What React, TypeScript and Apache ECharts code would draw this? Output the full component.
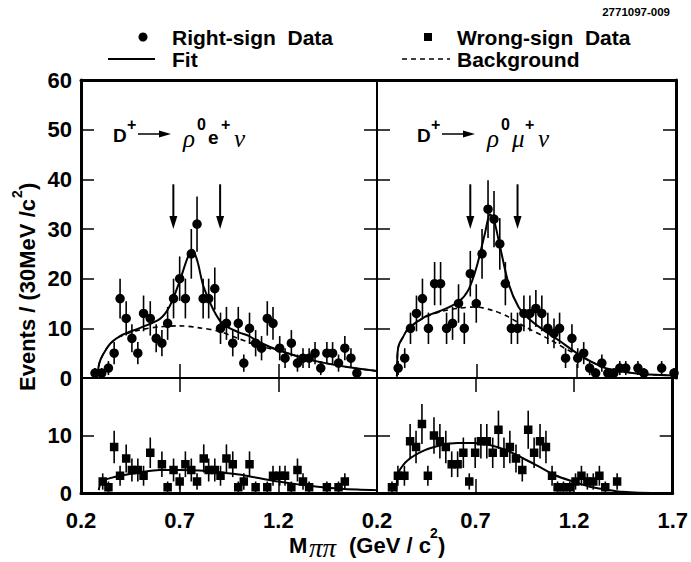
import React, { useEffect, useRef } from 'react';
import * as echarts from 'echarts';

// ---------- data ----------
// Top-left: D+ -> rho0 e+ nu, right-sign data
const tlX = [0.271,0.305,0.339,0.368,0.398,0.429,0.458,0.488,0.517,0.551,0.581,0.610,0.639,0.669,0.700,0.729,0.759,0.788,0.819,0.847,0.878,0.907,0.937,0.969,0.997,1.025,1.054,1.085,1.115,1.144,1.173,1.207,1.234,1.266,1.297,1.325,1.356,1.386,1.415,1.446,1.475,1.505,1.537,1.568,1.598];
const tlY = [1,1,2,5,16,12,8,5,13,12,8,7,11,16,20,16,25,31,16,16,18,10,11,7,11,3,10,7,6,12,11,6,4,7,3,4,4,5,2,5,5,3,6,4,1];
const tlFit = [[0.285,0.5],[0.29,2.5],[0.30,3.8],[0.32,5.3],[0.35,7.0],[0.40,8.5],[0.50,10.1],[0.60,11.9],[0.65,14.5],[0.70,19.5],[0.74,24.2],[0.765,25.8],[0.79,23.5],[0.82,18.5],[0.87,13.8],[0.92,10.8],[1.00,9.2],[1.05,8.5],[1.10,7.3],[1.20,5.6],[1.38,3.5],[1.55,2.2],[1.70,1.4]];
const tlBg = [[0.285,0.5],[0.29,2.5],[0.30,3.8],[0.32,5.3],[0.35,7.0],[0.40,8.4],[0.50,9.7],[0.60,10.3],[0.70,10.5],[0.80,10.1],[0.90,9.4],[1.00,7.9],[1.05,7.2],[1.10,6.5],[1.20,5.5],[1.38,3.5],[1.55,2.2],[1.70,1.4]];

// Top-right: D+ -> rho0 mu+ nu, right-sign data
const trX = [0.306,0.339,0.368,0.398,0.428,0.458,0.489,0.519,0.549,0.579,0.609,0.638,0.668,0.698,0.727,0.757,0.787,0.816,0.844,0.874,0.905,0.937,0.967,0.997,1.027,1.057,1.088,1.116,1.146,1.178,1.207,1.237,1.267,1.297,1.328,1.358,1.388,1.418,1.448,1.509,1.539,1.628,1.690];
const trY = [2,4,10,13,16,10,19,19,10,11,15,10,21,15,25,34,32,27,19,10,10,13,13,14,13,10,9,10,4,8,4,5,2,1,3,1,1,2,2,2,1,2,1];
const trFit = [[0.300,0.3],[0.303,5.0],[0.31,6.7],[0.33,8.2],[0.356,9.9],[0.44,12.3],[0.524,13.6],[0.608,15.3],[0.658,17.7],[0.70,22.4],[0.742,29.2],[0.767,32.9],[0.784,32.2],[0.817,26.5],[0.86,19.0],[0.91,14.3],[0.96,12.0],[1.027,9.9],[1.111,7.6],[1.195,5.2],[1.279,3.2],[1.363,1.8],[1.53,0.8],[1.70,0.5]];
const trBg = [[0.300,0.3],[0.303,5.0],[0.31,6.7],[0.33,8.2],[0.356,9.9],[0.44,12.2],[0.524,13.4],[0.60,14.0],[0.69,14.3],[0.78,13.6],[0.86,12.3],[0.943,10.3],[1.06,7.9],[1.16,5.6],[1.279,3.2],[1.363,1.8],[1.53,0.8],[1.70,0.5]];

// Bottom-left: wrong-sign, electron
const blX = [0.310,0.339,0.368,0.398,0.429,0.458,0.488,0.517,0.551,0.610,0.639,0.669,0.700,0.729,0.759,0.788,0.822,0.847,0.878,0.907,0.937,0.969,0.997,1.025,1.054,1.085,1.144,1.173,1.207,1.234,1.266,1.297,1.325,1.356,1.446,1.505,1.537];
const blY = [2,1,8,3,6,4,4,3,7,5,1,4,2,5,4,2,6,4,4,3,6,5,1,2,5,1,1,3,3,3,1,4,2,1,1,1,2];
const blFit = [[0.29,0.5],[0.30,1.8],[0.32,2.3],[0.40,3.0],[0.50,3.6],[0.60,4.0],[0.70,4.0],[0.80,3.9],[0.90,3.6],[1.00,3.2],[1.10,2.6],[1.20,2.0],[1.30,1.5],[1.40,1.1],[1.50,0.8],[1.60,0.6],[1.70,0.5]];

// Bottom-right: wrong-sign, muon
const brX = [0.276,0.306,0.339,0.368,0.398,0.428,0.458,0.489,0.519,0.549,0.579,0.609,0.638,0.668,0.698,0.727,0.757,0.787,0.816,0.844,0.874,0.905,0.937,0.967,0.997,1.027,1.057,1.088,1.116,1.146,1.178,1.207,1.237,1.267,1.297,1.328,1.358,1.418];
const brY = [1,3,3,9,8,12,3,10,9,8,5,5,7,2,7,9,9,7,11,7,8,6,4,11,7,9,8,3,1,1,1,2,3,2,2,3,1,2];
const brFit = [[0.300,0.2],[0.302,2.5],[0.31,3.7],[0.356,5.7],[0.44,7.4],[0.524,8.3],[0.608,8.7],[0.69,8.7],[0.776,8.3],[0.86,7.4],[0.943,6.0],[1.027,4.5],[1.11,3.0],[1.195,2.0],[1.279,1.1],[1.363,0.6],[1.447,0.2],[1.53,0.05],[1.70,0.0]];

// signal-window arrows (x position, arrow top, arrow tip)
const arrowX = [0.668, 0.905];
const arrowTop = 39;
const arrowTip = 30;

const xMin = 0.2, xMax = 1.7, xStep = 0.5;

const SANS = '"Liberation Sans", Arial, Helvetica, sans-serif';
const SERIF = '"Liberation Serif", "Times New Roman", serif';

function withErr(xs: number[], ys: number[]) {
  return xs.map((x, i) => [x, ys[i], Math.sqrt(ys[i])]);
}

function errSeries(data: number[][], xi: number, yi: number) {
  return {
    type: 'custom', xAxisIndex: xi, yAxisIndex: yi, data, z: 3, silent: true, clip: true,
    encode: { x: 0, y: 1 },
    renderItem: (_p: any, api: any) => {
      const x = api.value(0), y = api.value(1), e = api.value(2);
      const a = api.coord([x, Math.max(y - e, 0)]);
      const b = api.coord([x, y + e]);
      return { type: 'line', shape: { x1: a[0], y1: a[1], x2: b[0], y2: b[1] }, style: { stroke: '#000', lineWidth: 1.6 } };
    },
  };
}

function markSeries(data: number[][], xi: number, yi: number, symbol: string, size: number) {
  return {
    type: 'scatter', xAxisIndex: xi, yAxisIndex: yi, data: data.map(d => [d[0], d[1]]),
    symbol, symbolSize: size, itemStyle: { color: '#000', opacity: 1 }, z: 5, silent: true,
  };
}

function lineSeries(data: number[][], xi: number, yi: number, dashed: boolean) {
  return {
    type: 'line', xAxisIndex: xi, yAxisIndex: yi, data, symbol: 'none', showSymbol: false,
    smooth: 0.3, silent: true, z: dashed ? 3 : 4,
    lineStyle: { color: '#000', width: dashed ? 1.6 : 2, type: dashed ? [5, 4] : 'solid' },
  };
}

function arrowSeries(xi: number, yi: number) {
  return {
    type: 'custom', xAxisIndex: xi, yAxisIndex: yi, z: 6, silent: true,
    data: arrowX.map(x => [x, arrowTop, arrowTip]),
    encode: { x: 0, y: 1 },
    renderItem: (_p: any, api: any) => {
      const t = api.coord([api.value(0), api.value(1)]);
      const h = api.coord([api.value(0), api.value(2)]);
      return {
        type: 'group', children: [
          { type: 'line', shape: { x1: t[0], y1: t[1], x2: h[0], y2: h[1] - 10 }, style: { stroke: '#000', lineWidth: 2 } },
          { type: 'polygon', shape: { points: [[h[0] - 4, h[1] - 13], [h[0] + 4, h[1] - 13], [h[0], h[1]]] }, style: { fill: '#000' } },
        ],
      };
    },
  };
}

const labelFont = { fontFamily: SANS, fontWeight: 'bold' as const, fontSize: 22, color: '#000' };

function xAx(gridIndex: number, position: 'top' | 'bottom', lw: number, ticks: boolean, labels: boolean, hideMax: boolean) {
  return {
    type: 'value', gridIndex, position, min: xMin, max: xMax, interval: xStep,
    axisLine: { show: true, onZero: false, lineStyle: { color: '#000', width: lw } },
    axisTick: { show: ticks, inside: true, length: 14, lineStyle: { color: '#000', width: 1.5 } },
    axisLabel: { show: labels, ...labelFont, margin: 16, showMaxLabel: !hideMax, formatter: (v: number) => v.toFixed(1) },
    splitLine: { show: false },
  };
}

function yAx(gridIndex: number, position: 'left' | 'right', max: number, lw: number, labels: boolean, hideMax: boolean) {
  return {
    type: 'value', gridIndex, position, min: 0, max, interval: 10,
    axisLine: { show: true, onZero: false, lineStyle: { color: '#000', width: lw } },
    axisTick: { show: true, inside: true, length: 13, lineStyle: { color: '#000', width: 1.5 } },
    axisLabel: { show: labels, ...labelFont, margin: 9, showMaxLabel: !hideMax },
    splitLine: { show: false },
  };
}

function txt(x: number, y: number, text: string, font: string, align = 'left', valign = 'middle') {
  return { type: 'text', x, y, silent: true, style: { text, font, fill: '#000', textAlign: align, textVerticalAlign: valign } };
}

function panelLabel(x0: number, lepton: string, lepSerif: boolean) {
  const B = `bold 19px ${SANS}`;
  const S = `bold 16px ${SANS}`;
  const G = `italic 25px ${SERIF}`;
  const yc = 135, ys = 124, yg = 138;
  const els: any[] = [];
  els.push(txt(x0, yc, 'D', B));
  els.push(txt(x0 + 14, ys, '+', S));
  els.push({ type: 'line', silent: true, shape: { x1: x0 + 25, y1: yc - 1, x2: x0 + 50, y2: yc - 1 }, style: { stroke: '#000', lineWidth: 1.5 } });
  els.push({ type: 'polygon', silent: true, shape: { points: [[x0 + 46, yc - 4.5], [x0 + 58, yc - 1], [x0 + 46, yc + 2.5]] }, style: { fill: '#000' } });
  els.push(txt(x0 + 70, yg, 'ρ', G));
  els.push(txt(x0 + 84, ys, '0', S));
  els.push(txt(x0 + 95, lepSerif ? yg : yc + 2, lepton, lepSerif ? G : B));
  els.push(txt(x0 + 108, ys, '+', S));
  els.push(txt(x0 + 121, yg, 'ν', G));
  return els;
}

const App: React.FC = () => {
  const ref = useRef<HTMLDivElement>(null);
  useEffect(() => {
    if (!ref.current) return;
    const chart = echarts.init(ref.current, undefined, { renderer: 'svg' });
    const tl = withErr(tlX, tlY), tr = withErr(trX, trY), bl = withErr(blX, blY), br = withErr(brX, brY);
    const L = `bold 21px ${SANS}`;
    const T = `bold 22px ${SANS}`;
    const option: any = {
      animation: false,
      backgroundColor: '#fff',
      grid: [
        { left: 81, top: 80, width: 296, height: 298 },
        { left: 377, top: 80, width: 299, height: 298 },
        { left: 81, top: 378, width: 296, height: 115 },
        { left: 377, top: 378, width: 299, height: 115 },
      ],
      xAxis: [
        xAx(0, 'bottom', 2, true, false, false),
        xAx(1, 'bottom', 2, true, false, false),
        xAx(2, 'bottom', 3, true, true, true),
        xAx(3, 'bottom', 3, true, true, false),
        xAx(2, 'top', 2, true, false, false),
        xAx(3, 'top', 2, true, false, false),
        xAx(0, 'top', 3, false, false, false),
        xAx(1, 'top', 3, false, false, false),
      ],
      yAxis: [
        yAx(0, 'left', 60, 3, true, false),
        yAx(1, 'left', 60, 2, false, false),
        yAx(2, 'left', 20, 3, true, true),
        yAx(3, 'left', 20, 2, false, false),
        yAx(0, 'right', 60, 2, false, false),
        yAx(1, 'right', 60, 3, false, false),
        yAx(2, 'right', 20, 2, false, false),
        yAx(3, 'right', 20, 3, false, false),
      ],
      series: [
        lineSeries(tlBg, 0, 0, true),
        lineSeries(tlFit, 0, 0, false),
        errSeries(tl, 0, 0),
        markSeries(tl, 0, 0, 'circle', 9.5),
        arrowSeries(0, 0),
        lineSeries(trBg, 1, 1, true),
        lineSeries(trFit, 1, 1, false),
        errSeries(tr, 1, 1),
        markSeries(tr, 1, 1, 'circle', 9.5),
        arrowSeries(1, 1),
        lineSeries(blFit, 2, 2, false),
        errSeries(bl, 2, 2),
        markSeries(bl, 2, 2, 'rect', 8.5),
        lineSeries(brFit, 3, 3, false),
        errSeries(br, 3, 3),
        markSeries(br, 3, 3, 'rect', 8.5),
      ],
      graphic: [
        txt(670, 12, '2771097-009', `bold 11.5px ${SANS}`, 'right'),
        { type: 'circle', silent: true, shape: { cx: 143, cy: 37, r: 4.5 }, style: { fill: '#000' } },
        txt(172, 37, 'Right-sign  Data', L),
        { type: 'line', silent: true, shape: { x1: 108, y1: 59, x2: 155, y2: 59 }, style: { stroke: '#000', lineWidth: 2 } },
        txt(172, 59, 'Fit', L),
        { type: 'rect', silent: true, shape: { x: 424, y: 33, width: 8, height: 8 }, style: { fill: '#000' } },
        txt(457, 37, 'Wrong-sign  Data', L),
        { type: 'line', silent: true, shape: { x1: 402, y1: 59, x2: 450, y2: 59 }, style: { stroke: '#000', lineWidth: 1.6, lineDash: [5, 4] } },
        txt(457, 59, 'Background', L),
        ...panelLabel(113, 'e', false),
        ...panelLabel(417, 'μ', true),
        // x-axis title
        txt(289, 545, 'M', T),
        txt(309, 548, 'ππ', `italic 27px ${SERIF}`),
        txt(349, 545, '(GeV / c', T),
        txt(430, 533, '2', `bold 14px ${SANS}`),
        txt(438, 545, ')', T),
        // y-axis title (rotated)
        {
          type: 'group', x: 27, y: 391, rotation: Math.PI / 2, silent: true,
          children: [
            txt(0, 0, 'Events / (30MeV /c', T),
            txt(193, -10, '2', `bold 14px ${SANS}`),
            txt(201, 0, ')', T),
          ],
        },
      ],
    };
    chart.setOption(option);
    return () => chart.dispose();
  }, []);
  return <div ref={ref} style={{ position: 'fixed', left: 0, top: 0, width: 691, height: 562, background: '#fff' }} />;
};

export default App;
